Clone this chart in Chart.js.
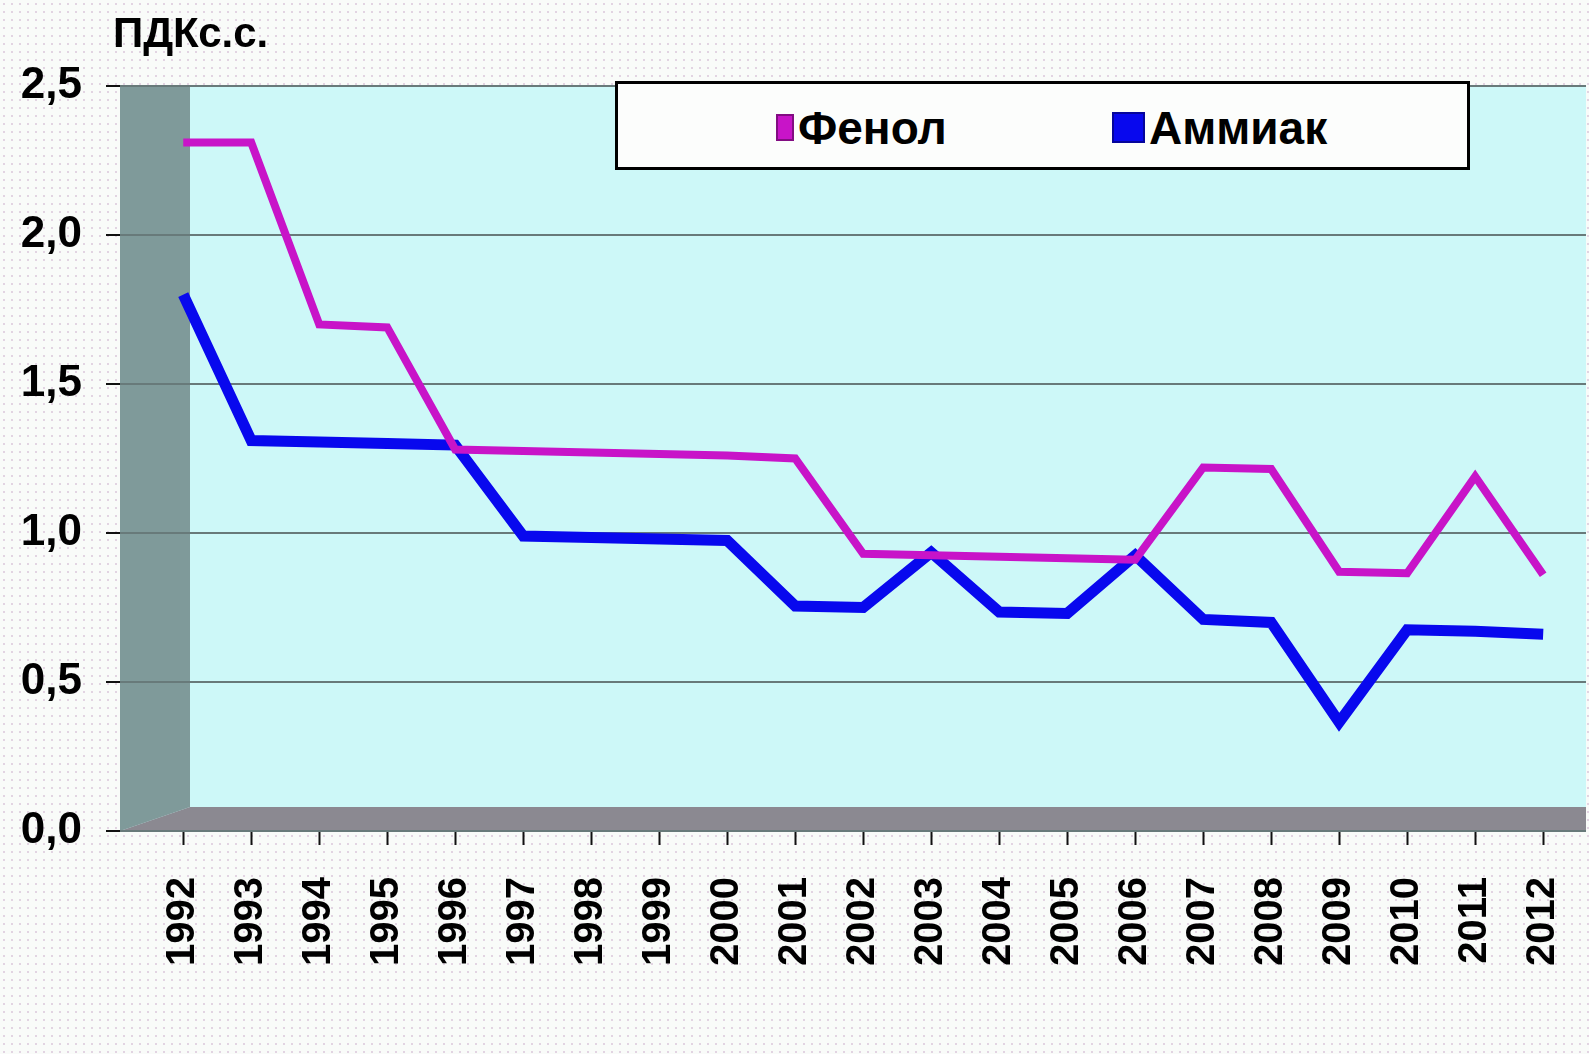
<!DOCTYPE html>
<html>
<head>
<meta charset="utf-8">
<script src="https://cdn.jsdelivr.net/npm/chart.js@4"></script>
<style>
  html, body { margin: 0; padding: 0; }
  body {
    width: 1589px; height: 1054px; overflow: hidden; position: relative;
    background-color: #f9fbf9;
    background-image: radial-gradient(#e2d4e2 1px, transparent 1.2px);
    background-size: 8px 8px;
    font-family: "Liberation Sans", Arial, sans-serif;
  }
  #wrap { position: absolute; left: 0; top: 0; width: 1589px; height: 1054px; }
  #unit { position: absolute; left: 113px; top: 12px; font-size: 42px; font-weight: bold; line-height: 1; color: #000; }
  #legend {
    position: absolute; left: 615px; top: 81px; width: 849px; height: 83px;
    border: 3px solid #000; background: #fcfdfc;
  }
  .item { position: absolute; top: 2px; height: 83px; display: flex; align-items: center; font-size: 46px; font-weight: bold; }
  .swatch { display: inline-block; margin-right: 4px; border: 2px solid rgba(0,0,0,.35); box-sizing: border-box; }
</style>
</head>
<body>
<div id="wrap"><canvas id="chart" width="1589" height="1054"></canvas></div>
<div id="unit">ПДКс.с.</div>
<div id="legend"></div>
<script>
const years = [1992, 1993, 1994, 1995, 1996, 1997, 1998, 1999, 2000, 2001, 2002,
               2003, 2004, 2005, 2006, 2007, 2008, 2009, 2010, 2011, 2012];
const seriesNames = ['Фенол', 'Аммиак'];
const phenol  = [2.31, 2.31, 1.70, 1.69, 1.28, 1.275, 1.27, 1.265, 1.26, 1.25, 0.93,
                 0.925, 0.92, 0.915, 0.91, 1.22, 1.215, 0.87, 0.865, 1.19, 0.86];
const ammonia = [1.80, 1.31, 1.305, 1.30, 1.295, 0.99, 0.985, 0.98, 0.975, 0.755, 0.75,
                 0.935, 0.735, 0.73, 0.925, 0.71, 0.70, 0.365, 0.675, 0.67, 0.66];
const yTicks = [0, 0.5, 1.0, 1.5, 2.0, 2.5];

const colors = ['#c814c8', '#0808ee'];
const widths = [8, 11];

// legend in the box at the top
const legend = document.getElementById('legend');
const legendPos = [[158, 18, 27], [494, 33, 31]];
seriesNames.forEach((name, i) => {
  const it = document.createElement('div');
  it.className = 'item';
  it.style.left = legendPos[i][0] + 'px';
  it.innerHTML = '<span class="swatch" style="width:' + legendPos[i][1] + 'px;height:' + legendPos[i][2] +
    'px;background:' + colors[i] + '"></span>' + name;
  legend.appendChild(it);
});

// background: cyan back wall, gray side wall and floor
const walls = {
  id: 'walls',
  beforeDraw(chart) {
    const { ctx, chartArea: a } = chart;
    const d = 70, f = 24;
    ctx.save();
    ctx.fillStyle = '#cdf8f8';
    ctx.fillRect(a.left, a.top, a.right - a.left, a.bottom - a.top);
    ctx.fillStyle = '#7f9a9a';
    ctx.beginPath();
    ctx.moveTo(a.left, a.top);
    ctx.lineTo(a.left + d, a.top);
    ctx.lineTo(a.left + d, a.bottom - f);
    ctx.lineTo(a.left, a.bottom);
    ctx.closePath();
    ctx.fill();
    ctx.fillStyle = '#8b8991';
    ctx.beginPath();
    ctx.moveTo(a.left, a.bottom);
    ctx.lineTo(a.left + d, a.bottom - f);
    ctx.lineTo(a.right, a.bottom - f);
    ctx.lineTo(a.right, a.bottom);
    ctx.closePath();
    ctx.fill();
    ctx.restore();
  }
};

const font = { family: '"Liberation Sans", Arial, sans-serif', weight: 'bold' };

new Chart(document.getElementById('chart'), {
  type: 'line',
  data: {
    datasets: [
      { label: seriesNames[0], data: years.map((y, i) => ({ x: y, y: phenol[i] })) },
      { label: seriesNames[1], data: years.map((y, i) => ({ x: y, y: ammonia[i] })) }
    ].map((ds, i) => Object.assign(ds, {
      borderColor: colors[i], backgroundColor: colors[i], borderWidth: widths[i],
      pointRadius: 0, tension: 0, fill: false, borderJoinStyle: 'miter'
    }))
  },
  options: {
    responsive: false,
    animation: false,
    layout: { padding: { left: 15, right: 3, top: 86, bottom: 0 } },
    plugins: { legend: { display: false }, tooltip: { enabled: false } },
    scales: {
      x: {
        type: 'linear',
        min: 1991.07,
        max: 2012.63,
        afterBuildTicks(scale) { scale.ticks = years.map(v => ({ value: v })); },
        afterFit(scale) { scale.height = 223; scale.paddingLeft = 0; scale.paddingRight = 0; },
        grid: { drawOnChartArea: false, drawTicks: true, tickLength: 14, tickColor: '#111', tickWidth: 2 },
        border: { display: false },
        ticks: {
          autoSkip: false, minRotation: 90, maxRotation: 90, padding: 32,
          color: '#000', font: Object.assign({ size: 40 }, font),
          callback: v => String(v)
        }
      },
      y: {
        min: 0,
        max: 2.5,
        afterBuildTicks(scale) { scale.ticks = yTicks.map(v => ({ value: v })); },
        afterFit(scale) { scale.width = 105; },
        grid: { color: '#687a7a', lineWidth: 2, drawTicks: true, tickLength: 14, tickColor: '#111', tickWidth: 2 },
        border: { display: false },
        ticks: {
          padding: 24, color: '#000', font: Object.assign({ size: 44 }, font),
          callback: v => v.toFixed(1).replace('.', ',')
        }
      }
    }
  },
  plugins: [walls]
});
</script>
</body>
</html>
